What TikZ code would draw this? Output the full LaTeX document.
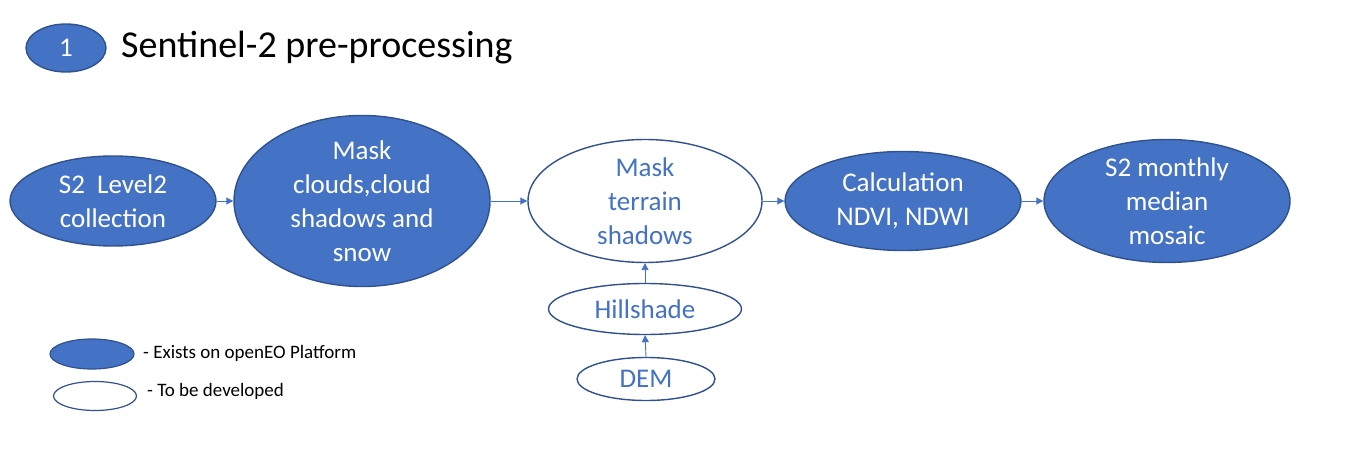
\documentclass[tikz,border=0pt]{standalone}
\usepackage{fontspec}
\setmainfont{Carlito}
\usetikzlibrary{shapes.geometric,arrows.meta}
\definecolor{fillblue}{HTML}{4472C4}
\definecolor{edgeblue}{HTML}{2F528F}
\tikzset{
  filled/.style={ellipse, draw=edgeblue, line width=1.4pt, fill=fillblue, text=white, inner sep=0pt, align=center, font=\fontsize{27}{34}\selectfont},
  hollow/.style={ellipse, draw=edgeblue, line width=1.4pt, fill=white, text=fillblue, inner sep=0pt, align=center, font=\fontsize{27}{34}\selectfont},
  conn/.style={draw=fillblue, line width=0.9pt, -{Triangle[length=7pt,width=7pt]}},
  legtext/.style={anchor=west, inner sep=0pt, font=\fontsize{19}{21}\selectfont}
}
\begin{document}
\begin{tikzpicture}[x=1pt,y=-1pt]
\useasboundingbox (0,0) rectangle (1347,454);
% title
\node[filled, minimum width=80pt, minimum height=48pt, font=\fontsize{27}{29}\selectfont] (t1) at (66,48) {1};
\node[anchor=west, inner sep=0pt, font=\fontsize{38}{42}\selectfont] (title) at (121,48) {Sentinel-2 pre-processing};
% main nodes
\node[filled, minimum width=206pt, minimum height=90pt] (n1) at (113,201) {S2~ Level2\\collection};
\node[filled, minimum width=256pt, minimum height=141pt] (n2) at (362,201) {Mask\\clouds,cloud\\shadows and\\snow};
\node[hollow, minimum width=234pt, minimum height=122pt] (n3) at (645,201) {Mask\\terrain\\shadows};
\node[filled, minimum width=236pt, minimum height=99pt] (n4) at (903,201) {Calculation\\NDVI, NDWI};
\node[filled, minimum width=246pt, minimum height=105pt] (n5) at (1167,201) {S2 monthly\\median\\mosaic};
\node[hollow, minimum width=193pt, minimum height=51pt] (hs) at (645,309) {Hillshade};
\node[hollow, minimum width=138pt, minimum height=43pt] (dem) at (646,379) {DEM};
% connectors
\draw[conn] (n1.east) -- (n2.west);
\draw[conn] (n2.east) -- (n3.west);
\draw[conn] (n3.east) -- (n4.west);
\draw[conn] (n4.east) -- (n5.west);
\draw[conn] (hs.north) -- (n3.south);
\draw[conn] (dem.north) -- (hs.south);
% legend
\node[filled, minimum width=84pt, minimum height=30pt, line width=1.2pt] (lg1) at (92,354) {};
\node[hollow, minimum width=83pt, minimum height=29pt, line width=1.2pt] (lg2) at (95,396) {};
\node[legtext] (lt1) at (143,353) {- Exists on openEO Platform};
\node[legtext] (lt2) at (147,391) {- To be developed};
\end{tikzpicture}
\end{document}
